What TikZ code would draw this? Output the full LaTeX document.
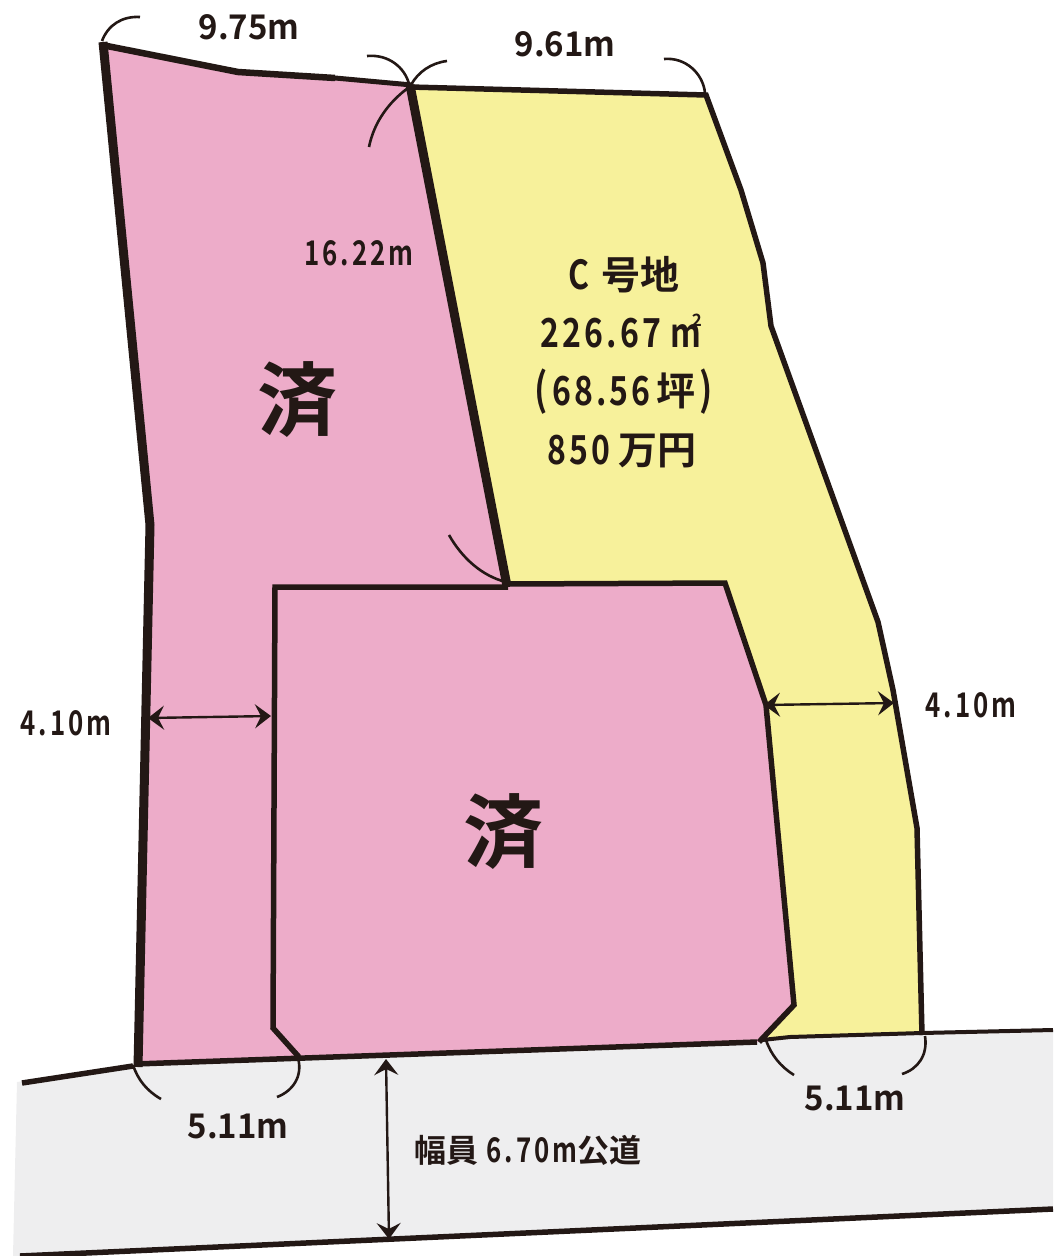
\documentclass[tikz,border=0pt]{standalone}
\usepackage{fontspec}
\usetikzlibrary{arrows.meta}
\setmainfont{Liberation Sans}
\newfontfamily\jpf{Noto Sans CJK JP Bold}
\newfontfamily\lbf[FakeStretch=0.97]{Noto Sans CJK JP Bold}
\newfontfamily\dgb[FakeStretch=0.8,LetterSpace=8]{Noto Sans CJK JP Bold}
\newfontfamily\dgm[FakeStretch=0.76,LetterSpace=9]{Noto Sans CJK JP Bold}
\definecolor{ink}{HTML}{231815}
\definecolor{lotpink}{HTML}{EDACC9}
\definecolor{lotyellow}{HTML}{F7F19B}
\definecolor{roadgray}{HTML}{EEEEEF}
\newcommand{\fs}[1]{\fontsize{#1}{#1}\selectfont}
\tikzset{
  x=1pt,y=-1pt,
  lotline/.style={draw=ink,line width=5.5pt,line join=miter},
  thick lot/.style={draw=ink,line width=9pt,line join=miter},
  arcline/.style={draw=ink,line width=2.6pt},
  dimline/.style={draw=ink,line width=2.4pt,{Stealth[length=16pt,width=24pt,inset=6pt]}-{Stealth[length=16pt,width=24pt,inset=6pt]}},
  lab/.style={text=ink,font=\lbf\fs{34},inner sep=0pt,anchor=center},
  jlab/.style={text=ink,font=\fs{40}\dgb,inner sep=0pt,anchor=center},
  slab/.style={text=ink,font=\fs{34}\dgm,inner sep=0pt,anchor=center},
  zumi/.style={text=ink,font=\jpf\fs{80},inner sep=0pt,anchor=center},
}
\newcommand{\jb}[1]{{\jpf\fs{39}#1}}
\newcommand{\jm}[1]{{\jpf\fs{32}#1}}
\begin{document}
\begin{tikzpicture}
\useasboundingbox (0,0) rectangle (1053,1256);
% road
\fill[roadgray] (17,1082) -- (135,1066) -- (757,1042) -- (790,1037) -- (922,1033) -- (1053,1030) -- (1053,1209) -- (20,1256) -- (13,1256) -- cycle;
% lots
\path[fill=lotpink] (103,44) -- (238,72) -- (410,85) -- (508,586) -- (275,587) -- (272,1028) -- (299,1057) -- (139,1064) -- (151,525) -- cycle;
\path[fill=lotyellow] (410,88) -- (706,95) -- (741,190) -- (763,263) -- (771,326) -- (878,622) -- (893,690) -- (917,828) -- (922,1033) -- (790,1037) -- (762,1041) -- (794,1005) -- (767,710) -- (725,583) -- (508,583) -- cycle;
\path[fill=lotpink] (275,587) -- (725,583) -- (766,705) -- (794,1005) -- (759,1042) -- (299,1057) -- (272,1028) -- cycle;
% lot outlines
\draw[lotline] (508,584) -- (725,583) -- (766,705) -- (794,1005) -- (759,1042);
\draw[lotline] (508,587) -- (275,587) -- (273,1028) -- (299,1057);
\draw[lotline] (410,87) -- (706,95) -- (741,190) -- (763,263) -- (771,326) -- (878,622) -- (893,690) -- (917,828) -- (922,1035);
\draw[line width=6.5pt,draw=ink,line join=miter] (102,45) -- (238,72) -- (335,78);
\draw[line width=5pt,draw=ink] (335,78) -- (412,85);
\draw[thick lot] (410,85) -- (507,586);
\draw[thick lot] (103,42) -- (150,525) -- (138,1067);
% road lines
\draw[lotline] (135,1064) -- (757,1042);
\draw[line width=4pt,draw=ink] (762,1040) -- (790,1037) -- (922,1033) -- (1053,1030);
\draw[lotline] (22,1083) -- (133,1066);
\draw[lotline] (20,1256) -- (1053,1209);
% arcs
\draw[arcline] (102,41) .. controls (108,25) and (122,16) .. (140,17);
\draw[arcline] (367,56) .. controls (389,54) and (405,68) .. (409,84);
\draw[arcline] (447,61) .. controls (431,63) and (418,72) .. (411,85);
\draw[arcline] (369,147) .. controls (374,122) and (389,102) .. (408,88);
\draw[arcline] (664,59) .. controls (685,57) and (703,73) .. (705,93);
\draw[arcline] (449,535) .. controls (462,558) and (482,576) .. (506,582);
\draw[arcline] (133,1065) .. controls (138,1080) and (147,1091) .. (161,1099);
\draw[arcline] (298,1058) .. controls (303,1076) and (293,1091) .. (277,1097);
\draw[arcline] (766,1040) .. controls (771,1055) and (781,1067) .. (794,1075);
\draw[arcline] (925,1036) .. controls (928,1055) and (918,1069) .. (902,1074);
% dimensions
\coordinate (a1) at (148,718); \coordinate (a2) at (271,716);
\coordinate (b1) at (764,705); \coordinate (b2) at (894,703);
\coordinate (c1) at (386,1059); \coordinate (c2) at (389,1239);
\draw[dimline] (a1) -- (a2);
\draw[dimline] (b1) -- (b2);
\draw[dimline] (c1) -- (c2);
% labels
\node[lab] (t975) at (249,27) {9.75m};
\node[lab] (t961) at (565,44) {9.61m};
\node[lab] (t511a) at (238,1126) {5.11m};
\node[lab] (t511b) at (855,1098) {5.11m};
\node[slab] (t1622) at (359,253) {16.22m};
\node[slab] (t410a) at (66,723) {4.10m};
\node[slab] (t410b) at (971,705) {4.10m};
\node[zumi] (z1) at (297,400) {済};
\node[zumi] (z2) at (503,832) {済};
\node[jlab] (c1t) at (624,275) {C\hspace{12pt}\jb{号地}};
\node[jlab,anchor=base west] (c2t) at (540,347) {226.67\hspace{10pt}m\kern-10pt\smash{\raisebox{21pt}{\jpf\fs{17}2}}};
\node[jlab,anchor=base] (c3t) at (624,405) {\fs{44}(\hspace{4pt}\fs{40}68.56\hspace{6pt}\jb{坪}\hspace{4pt}\fs{44})};
\node[jlab] (c4t) at (622,451) {850\hspace{8pt}\jb{万円}};
\node[slab] (road) at (528,1150) {\jm{幅員}\hspace{8pt}6.70m\jm{公道}};
\end{tikzpicture}
\end{document}
